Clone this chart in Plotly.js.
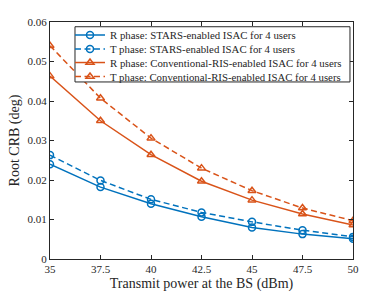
<!DOCTYPE html>
<html><head><meta charset="utf-8">
<script src="https://cdn.plot.ly/plotly-3.0.1.min.js"></script>
<style>html,body{margin:0;padding:0;background:#fff}#plot{width:390px;height:293px}</style>
</head><body><div id="plot"></div>
<script>
const power = [35, 37.5, 40, 42.5, 45, 47.5, 50];
const rStars = [0.0240, 0.0182, 0.0140, 0.0107, 0.0080, 0.0063, 0.0051];
const tStars = [0.0263, 0.0199, 0.0151, 0.0118, 0.0094, 0.0073, 0.0056];
const rConv = [0.0463, 0.0350, 0.0264, 0.0197, 0.0149, 0.0114, 0.0086];
const tConv = [0.0540, 0.0407, 0.0306, 0.0230, 0.0173, 0.0129, 0.0097];
const names = [
  'R phase: STARS-enabled ISAC for 4 users',
  'T phase: STARS-enabled ISAC for 4 users',
  'R phase: Conventional-RIS-enabled ISAC for 4 users',
  'T phase: Conventional-RIS-enabled ISAC for 4 users'
];
const xTicks = [35, 37.5, 40, 42.5, 45, 47.5, 50];
const yTicks = [0, 0.01, 0.02, 0.03, 0.04, 0.05, 0.06];
const blue = '#0072BD', orange = '#D95319';
const legendIds = ['legend', 'legend2', 'legend3', 'legend4'];
function tr(y, name, color, dash, sym, lg) {
  return {x: power, y: y, name: name, type: 'scatter', mode: 'lines+markers', legend: lg,
    line: {color: color, width: 1.5, dash: dash},
    marker: {symbol: sym, size: 7, color: color, line: {color: color, width: 1.5}}};
}
const data = [
  tr(rStars, names[0], blue, 'solid', 'circle-open', legendIds[0]),
  tr(tStars, names[1], blue, '6px,3.5px', 'circle-open', legendIds[1]),
  tr(rConv, names[2], orange, 'solid', 'triangle-up-open', legendIds[2]),
  tr(tConv, names[3], orange, '6px,3.5px', 'triangle-up-open', legendIds[3])
];
const font = {family: 'Liberation Serif, Times New Roman, serif', color: '#262626', size: 11};
const axBase = {showgrid: false, zeroline: false, showline: true, mirror: 'ticks', linecolor: '#262626', linewidth: 1,
  ticks: 'inside', ticklen: 4, tickcolor: '#262626', tickfont: {size: 11}};
const rowY = [0.945, 0.886, 0.829, 0.770];
const layout = {
  width: 390, height: 293, font: font,
  margin: {l: 50, r: 37, t: 22, b: 34},
  paper_bgcolor: '#fff', plot_bgcolor: '#fff',
  showlegend: true,
  shapes: [{type: 'rect', xref: 'paper', yref: 'paper', x0: 0.0825, x1: 0.990, y0: 0.747, y1: 0.980,
    line: {color: '#262626', width: 1}, fillcolor: '#fff', layer: 'above'}],
  xaxis: Object.assign({}, axBase, {range: [35, 50], tickvals: xTicks, ticktext: xTicks.map(String),
    title: {text: 'Transmit power at the BS (dBm)', font: {size: 14}, standoff: 3}}),
  yaxis: Object.assign({}, axBase, {range: [0, 0.06], tickvals: yTicks, ticktext: yTicks.map(v => v === 0 ? '0' : v.toFixed(2)),
    title: {text: 'Root CRB (deg)', font: {size: 14}, standoff: 4}})
};
legendIds.forEach((id, i) => {
  layout[id] = {x: 0.066, y: rowY[i], xanchor: 'left', yanchor: 'middle', bgcolor: 'rgba(0,0,0,0)', borderwidth: 0,
    font: {size: 10.8}};
});
Plotly.newPlot('plot', data, layout, {displayModeBar: false, staticPlot: true});
</script></body></html>
